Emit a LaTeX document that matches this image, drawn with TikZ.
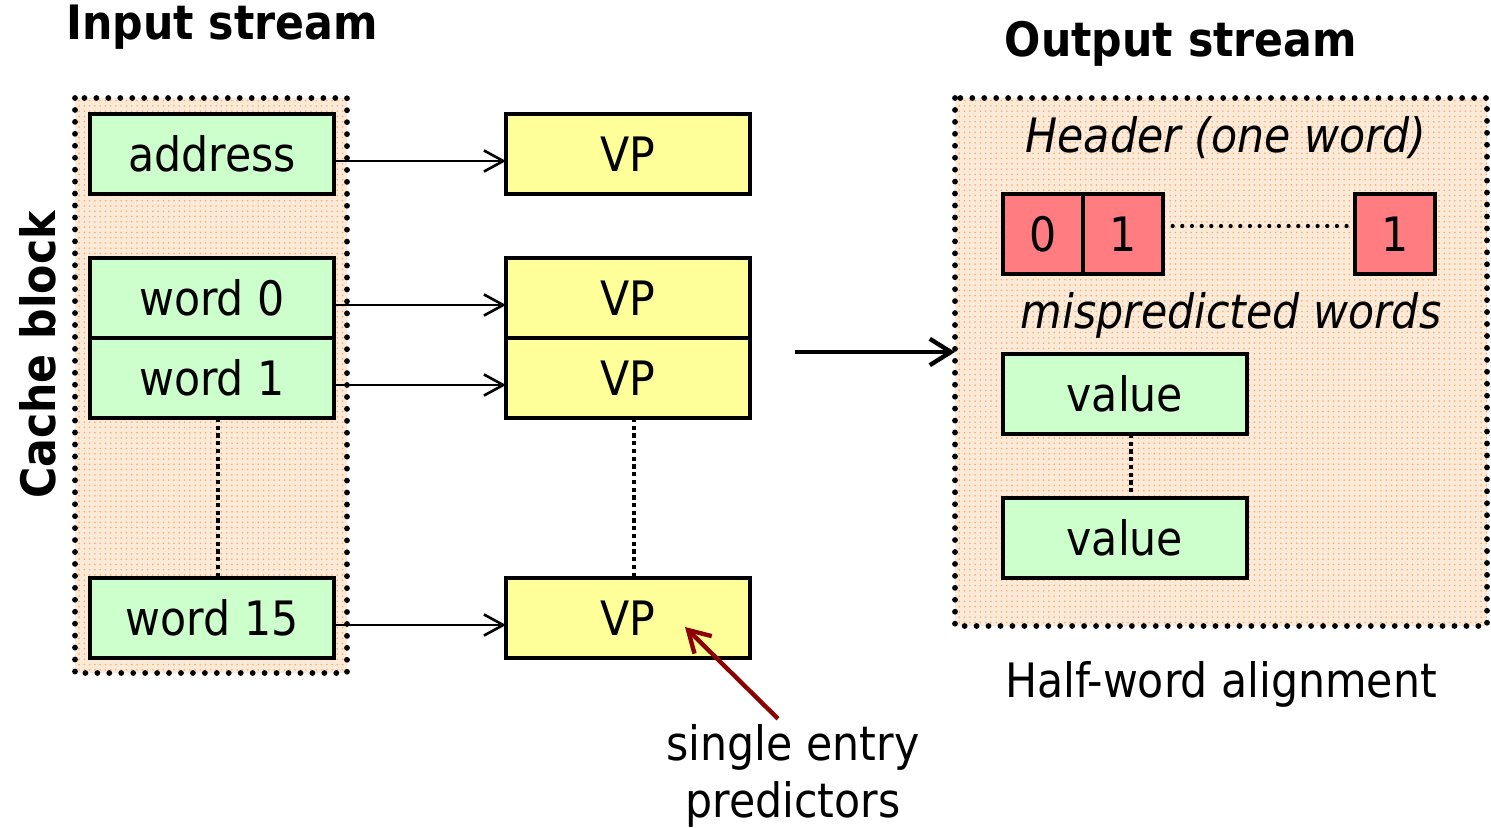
\documentclass[tikz,border=0pt]{standalone}
\usepackage{fontspec}
\setmainfont{DejaVu Sans Condensed}
\usetikzlibrary{arrows.meta,positioning,patterns}
\definecolor{wordgreen}{RGB}{204,255,204}
\definecolor{vpyellow}{RGB}{255,255,153}
\definecolor{hdrred}{RGB}{255,124,128}
\definecolor{framepeach}{RGB}{252,234,216}
\definecolor{framedot}{RGB}{248,170,105}
\definecolor{ptrred}{RGB}{140,0,0}

\begin{document}
\begin{tikzpicture}[x=0.02cm, y=-0.02cm,
  every node/.style={font=\fontsize{27}{32}\selectfont},
  frame/.style={draw, preaction={fill=framepeach}, pattern=dots, pattern color=framedot,
    line width=3.3pt, line cap=round, dash pattern=on 0pt off 6.8pt},
  cell/.style={draw, line width=2.1pt, minimum width=4.88cm, minimum height=1.6cm, inner sep=0pt, outer sep=0pt},
  word/.style={cell, fill=wordgreen},
  vpbox/.style={cell, fill=vpyellow},
  bitbox/.style={cell, fill=hdrred, minimum width=1.6cm},
  gap/.style={line width=2.4pt, dotted},
  feed/.style={line width=1.5pt, -{Straight Barb[length=11pt, width=12pt]}},
  title/.style={font=\fontsize{27}{32}\selectfont\bfseries},
  note/.style={font=\fontsize{27}{32}\selectfont\itshape}
]
  \useasboundingbox (0,0) rectangle (1491,828);

  % input side
  \draw[frame] (75,98) rectangle (347,673);
  \node[title] (intitle) at (222,27) {Input stream};
  \node[title, rotate=90] (cblock) at (38,355) {Cache block};

  \node[word] (addr) at (212,154) {address};
  \node[word] (w0) at (212,298) {word 0};
  \node[word] (w1) at (212,378) {word 1};
  \node[word] (w15) at (212,618) {word 15};
  \draw[gap] ([xshift=0.12cm]w1.south) -- ([xshift=0.12cm]w15.north);

  % predictors
  \node[vpbox] (vpa) at (628,154) {VP};
  \node[vpbox] (vp0) at (628,298) {VP};
  \node[vpbox] (vp1) at (628,378) {VP};
  \node[vpbox] (vp15) at (628,618) {VP};
  \draw[gap] ([xshift=0.12cm]vp1.south) -- ([xshift=0.12cm]vp15.north);

  \foreach \src/\dst in {addr/vpa, w0/vp0, w1/vp1, w15/vp15} {
    \draw[feed] ([yshift=-0.14cm]\src.east) -- ([yshift=-0.14cm]\dst.west);
  }

  \node[align=center] (single) at (793,776) {single entry\\predictors};
  \coordinate (tip) at (685,627);
  \draw[ptrred, line width=2.5pt, -{Straight Barb[length=12pt, width=14pt]}] (single.north) ++(-0.3cm,0) -- (tip);

  % output side
  \draw[frame] (955,98) rectangle (1487,626);
  \node[title] (outtitle) at (1181,44) {Output stream};
  \coordinate (outin) at (955,352);
  \draw[line width=2.5pt, -{Straight Barb[length=12pt, width=15pt]}] (795,352) -- (outin);

  \node[note] (hdr) at (1226,138) {Header (one word)};
  \node[bitbox] (b0) at (1043,234) {0};
  \node[bitbox, right=0pt of b0] (b1) {1};
  \node[bitbox] (bn) at (1395,234) {1};
  \draw[gap, dash pattern=on 0pt off 5.5pt, line cap=round] ([yshift=0.16cm]b1.east) -- ([yshift=0.16cm]bn.west);
  \node[note] (mispred) at (1231,315) {mispredicted words};

  \node[word] (val1) at (1125,394) {value};
  \node[word] (val2) at (1125,538) {value};
  \draw[gap] ([xshift=0.12cm]val1.south) -- ([xshift=0.12cm]val2.north);

  \node (align) at (1221,684) {Half-word alignment};
\end{tikzpicture}
\end{document}
